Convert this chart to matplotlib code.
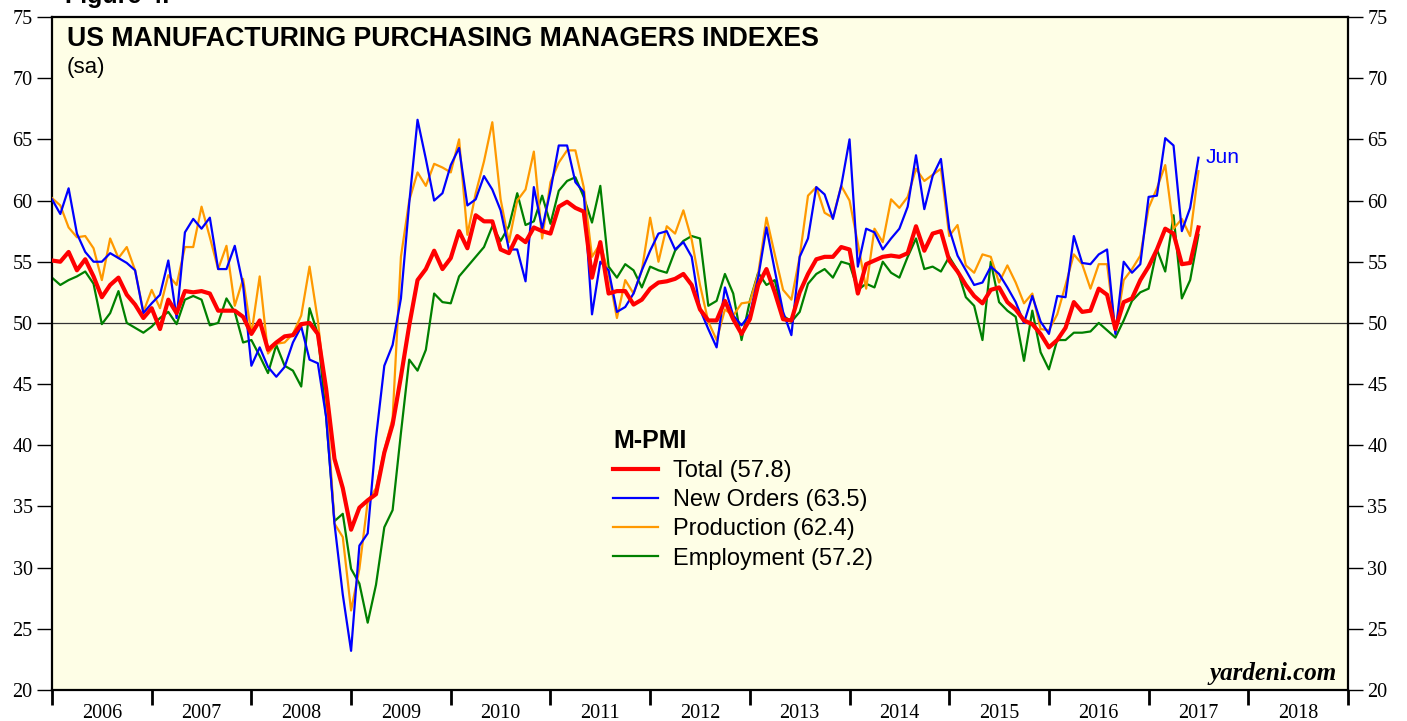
import numpy as np
import pandas as pd
import matplotlib
matplotlib.use("Agg")
import matplotlib.pyplot as plt
from matplotlib.ticker import MultipleLocator, FixedLocator, NullFormatter

# monthly readings, Dec 2005 .. Jun 2017 (sa)
start_month = "2005-12"

total = [55.1, 55.0, 55.8, 54.3, 55.2, 53.8, 52.1, 53.1, 53.7, 52.3, 51.5, 50.4,
         51.2, 49.5, 51.9, 50.8, 52.6, 52.5, 52.6, 52.4, 51.0, 51.0, 51.0, 50.5,
         49.1, 50.2, 47.8, 48.4, 48.9, 49.0, 49.9, 50.0, 49.1,
         44.6, 38.9, 36.5, 33.1, 34.9, 35.5, 36.0, 39.4, 41.7, 45.6, 49.8, 53.5,
         54.4, 55.9, 54.4, 55.3, 57.5, 56.1, 58.8, 58.3, 58.3, 56.0, 55.7, 57.1,
         56.6, 57.8,
         57.5, 57.3, 59.5, 59.9, 59.4, 59.1, 53.7, 56.6, 52.4, 52.6, 52.6, 51.5,
         51.9, 52.8, 53.3, 53.4, 53.6, 54.0, 53.1, 51.1, 50.2, 50.2, 51.8, 50.3,
         49.1, 50.3, 53.1, 54.4, 52.5, 50.3, 50.2, 52.5, 54.0, 55.2,
         55.4, 55.4, 56.2, 56.0, 52.4, 54.8, 55.1, 55.4, 55.5, 55.4, 55.7, 57.9,
         55.9, 57.3, 57.5, 55.1, 54.2, 53.1, 52.2, 51.6, 52.7, 52.9, 51.7, 51.1,
         50.2, 49.9, 49.1, 48.0, 48.6, 49.6, 51.7,
         50.9, 51.0, 52.8, 52.3, 49.5, 51.7, 52.0, 53.5, 54.6, 56.0, 57.7, 57.3,
         54.8, 54.9, 57.8]

new_orders = [60.1, 58.9, 61.0, 57.3, 55.8, 55.0, 55.0, 55.7, 55.3, 54.9, 54.3, 50.8,
              51.6, 52.3, 55.1, 50.4, 57.4, 58.5, 57.7, 58.6, 54.4, 54.4, 56.3, 53.1,
              46.5, 48.0, 46.4, 45.6, 46.4, 48.4, 49.7, 47.0, 46.7,
              42.3, 33.6, 27.8, 23.2, 31.8, 32.8, 40.6, 46.5, 48.2, 52.0, 59.8, 66.6,
              63.4, 60.0, 60.6, 62.9, 64.3, 59.6, 60.1, 62.0, 60.9, 59.2, 56.0, 56.0,
              53.4, 61.1, 57.7,
              60.8, 64.5, 64.5, 61.5, 60.7, 50.7, 55.0, 54.3, 50.9, 51.3, 52.4, 54.3,
              55.9, 57.3, 57.5, 56.0, 56.6, 55.4, 51.1, 49.5, 48.0, 52.9, 50.6, 49.8,
              50.7, 53.7, 57.8, 54.3, 50.9, 49.0, 55.4, 56.9, 61.1,
              60.5, 58.5, 61.2, 65.0, 54.6, 57.7, 57.4, 56.0, 56.9, 57.7, 59.5, 63.7,
              59.3, 62.0, 63.4, 57.7, 55.5, 54.3, 53.1, 53.3, 54.6, 54.0, 52.9, 51.7,
              50.0, 52.2, 50.1, 49.1, 52.2, 52.1, 57.1,
              54.9, 54.8, 55.6, 56.0, 49.1, 55.0, 54.1, 54.8, 60.3, 60.4, 65.1, 64.5,
              57.5, 59.4, 63.5]

production = [60.2, 59.6, 57.8, 57.0, 57.1, 56.1, 53.5, 56.9, 55.3, 56.2, 54.3, 50.9,
              52.7, 51.2, 53.9, 53.1, 56.2, 56.2, 59.5, 57.0, 54.4, 56.3, 51.4, 53.6,
              49.1, 53.8, 47.5, 48.3, 48.4, 49.1, 50.6, 54.6, 50.2,
              43.9, 33.6, 32.5, 26.5, 29.9, 35.4, 36.5, 39.6, 42.2, 55.4, 60.0, 62.3,
              61.2, 63.0, 62.7, 62.3, 65.0, 57.2, 60.6, 63.2, 66.4, 60.1, 56.6, 60.0,
              60.9, 64.0, 56.9,
              61.5, 63.1, 64.1, 64.1, 61.1, 55.4, 56.5, 54.0, 50.4, 53.5, 52.4, 54.3,
              58.6, 55.0, 57.9, 57.3, 59.2, 56.8, 53.1, 50.1, 48.6, 51.1, 50.6, 51.6,
              51.7, 54.0, 58.6, 55.6, 52.7, 51.9, 55.4, 60.4, 61.1,
              59.0, 58.6, 61.2, 60.0, 56.5, 52.8, 57.7, 56.6, 60.1, 59.4, 60.3, 62.6,
              61.6, 62.1, 62.6, 57.1, 58.0, 54.7, 54.1, 55.6, 55.4, 53.3, 54.7, 53.3,
              51.6, 52.4, 49.5, 49.4, 50.7, 53.1, 55.6,
              54.8, 52.8, 54.8, 54.8, 49.3, 53.5, 54.4, 55.5, 59.4, 61.0, 62.9, 57.7,
              58.5, 57.1, 62.4]

employment = [53.7, 53.1, 53.5, 53.8, 54.2, 53.2, 49.9, 50.8, 52.6, 50.0, 49.6, 49.2,
              49.7, 50.4, 50.9, 49.9, 51.9, 52.2, 51.9, 49.8, 50.0, 52.0, 50.9, 48.4,
              48.6, 47.3, 45.9, 48.2, 46.5, 46.1, 44.8, 51.2, 49.1,
              42.3, 33.8, 34.4, 29.9, 28.7, 25.5, 28.6, 33.3, 34.7, 41.0, 47.0, 46.1,
              47.8, 52.4, 51.7, 51.6, 53.8, 54.6, 55.4, 56.2, 57.9, 56.7, 57.9, 60.6,
              58.0, 58.3, 60.4,
              58.1, 60.8, 61.6, 61.9, 60.3, 58.2, 61.2, 54.6, 53.7, 54.8, 54.3, 52.9,
              54.6, 54.3, 54.1, 55.9, 56.7, 57.1, 56.9, 51.4, 51.8, 54.0, 52.4, 48.6,
              51.8, 54.1, 53.1, 53.5, 50.6, 50.1, 50.9, 53.2, 54.0,
              54.4, 53.7, 55.0, 54.8, 52.7, 53.2, 52.9, 55.0, 54.1, 53.7, 55.4, 56.9,
              54.4, 54.6, 54.2, 55.4, 54.3, 52.1, 51.4, 48.6, 55.0, 51.7, 51.0, 50.5,
              46.9, 51.0, 47.6, 46.2, 48.6, 48.6, 49.2,
              49.2, 49.3, 50.0, 49.4, 48.8, 50.2, 51.8, 52.5, 52.8, 56.0, 54.2, 58.8,
              52.0, 53.5, 57.2]

series_names = ["Total", "New Orders", "Production", "Employment"]
years = list(range(2006, 2019))

months = pd.date_range(start_month, periods=len(total), freq="MS")
# plotted at month end
x = months.year + months.month / 12.0

serif = ["Liberation Serif", "DejaVu Serif"]
sans = ["Liberation Sans", "DejaVu Sans"]

fig = plt.figure(figsize=(14.07, 7.21), dpi=100)
ax = fig.add_axes([52 / 1407, 31 / 721, 1296 / 1407, 673 / 721])
ax.set_facecolor("#fefee6")

ax.axhline(50, color="#333333", linewidth=0.9, zorder=1)

ax.plot(x, employment, color="#008000", linewidth=1.6, label=f"{series_names[3]} ({employment[-1]:.1f})", zorder=2)
ax.plot(x, production, color="#ff9900", linewidth=1.6, label=f"{series_names[2]} ({production[-1]:.1f})", zorder=3)
ax.plot(x, new_orders, color="#0000ff", linewidth=1.6, label=f"{series_names[1]} ({new_orders[-1]:.1f})", zorder=4)
ax.plot(x, total, color="#ff0000", linewidth=3.0, label=f"{series_names[0]} ({total[-1]:.1f})", zorder=5)

ax.set_xlim(2006, 2019)
ax.set_ylim(20, 75)

# y ticks on both sides
ax.yaxis.set_major_locator(MultipleLocator(5))
ax.tick_params(axis="y", direction="out", length=11, width=1.0, left=True, right=True,
               labelleft=True, labelright=True, labelsize=14.5, pad=3)

# year boundaries as major ticks, labels centred between them
ax.xaxis.set_major_locator(FixedLocator(list(range(2006, 2020))))
ax.xaxis.set_major_formatter(NullFormatter())
ax.xaxis.set_minor_locator(FixedLocator([y + 0.5 for y in years]))
ax.set_xticklabels([str(y) for y in years], minor=True)
ax.tick_params(axis="x", which="major", direction="out", length=11, width=2)
ax.tick_params(axis="x", which="minor", length=0, labelsize=14.5, pad=10)

for lab in ax.get_xticklabels(which="both") + ax.get_yticklabels():
    lab.set_family(serif)

for sp in ax.spines.values():
    sp.set_linewidth(1.6)

ax.text(0.0116, 0.987, "US MANUFACTURING PURCHASING MANAGERS INDEXES", transform=ax.transAxes,
        ha="left", va="top", fontsize=19.2, fontweight="bold", family=sans)
ax.text(0.0116, 0.94, "(sa)", transform=ax.transAxes, ha="left", va="top", fontsize=16, family=sans)

ax.annotate("Jun", (x[-1], new_orders[-1]), xytext=(5, 0), textcoords="offset points",
            ha="left", va="center", color="#0000ff", fontsize=15, family=sans)

ax.text(0.991, 0.008, "yardeni.com", transform=ax.transAxes, ha="right", va="bottom",
        fontsize=18, fontweight="bold", fontstyle="italic", family=serif)

fig.text(65 / 1407, 1 - 3 / 721, "Figure 4.", ha="left", va="baseline", fontsize=18,
         fontweight="bold", family=sans)

handles, labels = ax.get_legend_handles_labels()
leg = ax.legend(handles[::-1], labels[::-1], title="M-PMI", loc="upper left",
                bbox_to_anchor=(0.424, 0.405), frameon=False,
                handlelength=1.9, handletextpad=0.64, labelspacing=0.3,
                borderpad=0, alignment="left",
                prop={"family": sans, "size": 17},
                title_fontproperties={"family": sans, "size": 18, "weight": "bold"})

plt.savefig("out.png", dpi=100)
plt.close()
